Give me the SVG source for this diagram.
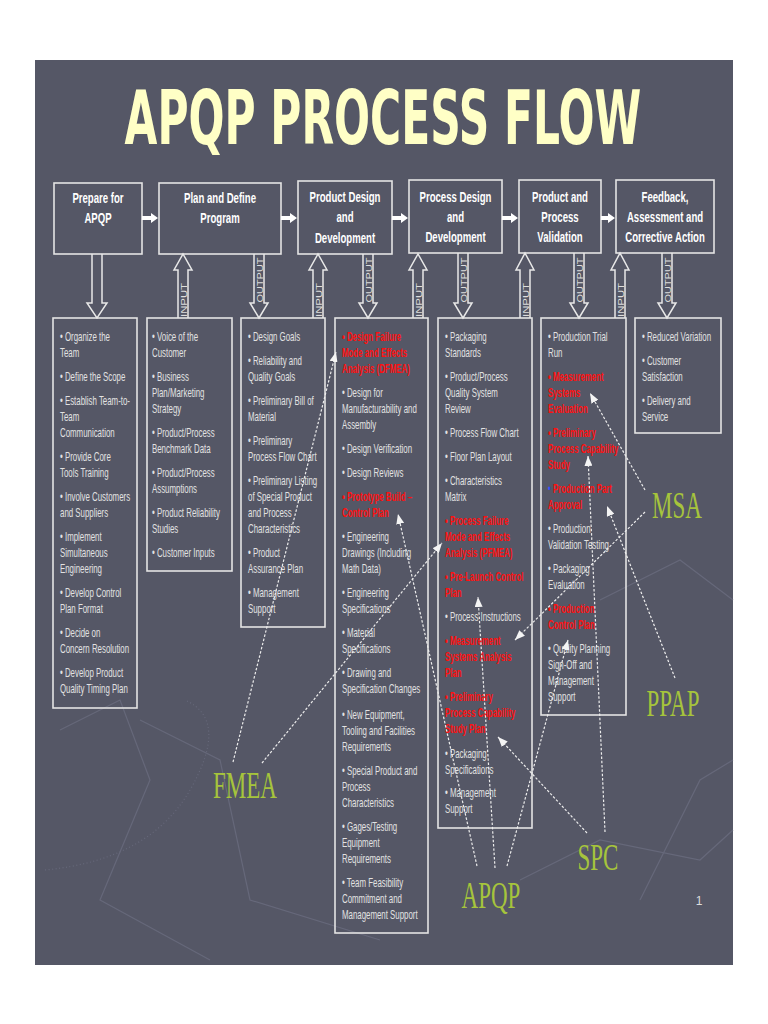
<svg xmlns="http://www.w3.org/2000/svg" width="768" height="1024" viewBox="0 0 768 1024">
<defs>
<style>
.bg{fill:#555766}
.box{fill:none;stroke:#e4e4e4;stroke-width:1.6}
.hd{font-family:"Liberation Sans",Arial,sans-serif;font-weight:bold;font-size:15px;fill:#ffffff;text-anchor:middle}
.t{font-family:"Liberation Sans",Arial,sans-serif;font-size:12.5px;fill:#e2e2e2}
.r{fill:#ff1010;font-weight:bold}
.b{fill:#3050ff}
.io{fill:none;stroke:#e8e8e8;stroke-width:1.5}
.iot{font-family:"Liberation Sans",Arial,sans-serif;font-size:9px;fill:#dddddd;text-anchor:middle}
.ha{fill:#ffffff}
.dl{fill:none;stroke:#ececec;stroke-width:1.2;stroke-dasharray:2.5 1.8}
.lb{font-family:"Liberation Serif","Times New Roman",serif;font-size:39px;fill:#a6c43c;text-anchor:middle}
.tex{fill:none;stroke:#66687a;stroke-width:1.2}
</style>
<marker id="ah" viewBox="0 0 10 8" refX="10" refY="4" markerWidth="10" markerHeight="8" markerUnits="userSpaceOnUse" orient="auto">
<path d="M0,0 L10,4 L0,8 Z" fill="#f4f4f4"/>
</marker>
</defs>
<rect x="0" y="0" width="768" height="1024" fill="#ffffff"/>
<rect class="bg" x="35" y="60" width="698" height="905"/>
<g id="background-texture">
<polyline class="tex" points="60,730 120,700 150,780 100,900 210,960"/>
<polyline class="tex" points="140,720 220,760 250,900 380,940"/>
<polyline class="tex" points="520,880 600,840 700,860 733,830"/>
<polyline class="tex" points="600,600 680,560 733,600"/>
<polyline class="tex" points="640,900 700,780 733,760"/>
<path class="tex" d="M45,870 Q150,860 190,790 Q230,720 185,700" stroke-dasharray="1 2.5" stroke-width="4"/>
</g>
<text transform="translate(383,144) scale(0.573,1)" x="0" y="0" font-family="'DejaVu Sans',Verdana,sans-serif" font-weight="bold" font-size="74" fill="#ffffc6" text-anchor="middle">APQP PROCESS FLOW</text>

<g id="step-prepare">
<rect class="box" x="54" y="183" width="88" height="71"/>
<text class="hd" transform="translate(98,0) scale(0.64,1)"><tspan x="0" y="203">Prepare for</tspan><tspan x="0" y="223">APQP</tspan></text>
</g>
<g id="step-plan">
<rect class="box" x="159" y="183" width="122" height="71"/>
<text class="hd" transform="translate(220,0) scale(0.64,1)"><tspan x="0" y="203">Plan and Define</tspan><tspan x="0" y="223">Program</tspan></text>
</g>
<g id="step-product-design">
<rect class="box" x="298" y="181" width="94" height="73"/>
<text class="hd" transform="translate(345,0) scale(0.64,1)"><tspan x="0" y="202">Product Design</tspan><tspan x="0" y="222">and</tspan><tspan x="0" y="243">Development</tspan></text>
</g>
<g id="step-process-design">
<rect class="box" x="409" y="180" width="93" height="73"/>
<text class="hd" transform="translate(455.5,0) scale(0.64,1)"><tspan x="0" y="202">Process Design</tspan><tspan x="0" y="222">and</tspan><tspan x="0" y="242">Development</tspan></text>
</g>
<g id="step-validation">
<rect class="box" x="519" y="180" width="82" height="73"/>
<text class="hd" transform="translate(560,0) scale(0.64,1)"><tspan x="0" y="202">Product and</tspan><tspan x="0" y="222">Process</tspan><tspan x="0" y="242">Validation</tspan></text>
</g>
<g id="step-feedback">
<rect class="box" x="616" y="180" width="98" height="73"/>
<text class="hd" transform="translate(665,0) scale(0.64,1)"><tspan x="0" y="202">Feedback,</tspan><tspan x="0" y="222">Assessment and</tspan><tspan x="0" y="242">Corrective Action</tspan></text>
</g>

<g id="list-prepare">
<rect class="box" x="53" y="318" width="84" height="390"/>
<text class="t" transform="translate(60,0) scale(0.63,1)">
<tspan x="0" y="341">• Organize the</tspan><tspan x="0" y="357">Team</tspan>
<tspan x="0" y="381">• Define the Scope</tspan>
<tspan x="0" y="405">• Establish Team-to-</tspan><tspan x="0" y="421">Team</tspan><tspan x="0" y="437">Communication</tspan>
<tspan x="0" y="461">• Provide Core</tspan><tspan x="0" y="477">Tools Training</tspan>
<tspan x="0" y="501">• Involve Customers</tspan><tspan x="0" y="517">and Suppliers</tspan>
<tspan x="0" y="541">• Implement</tspan><tspan x="0" y="557">Simultaneous</tspan><tspan x="0" y="573">Engineering</tspan>
<tspan x="0" y="597">• Develop Control</tspan><tspan x="0" y="613">Plan Format</tspan>
<tspan x="0" y="637">• Decide on</tspan><tspan x="0" y="653">Concern Resolution</tspan>
<tspan x="0" y="677">• Develop Product</tspan><tspan x="0" y="693">Quality Timing Plan</tspan>
</text>
</g>
<g id="list-plan">
<rect class="box" x="147" y="318" width="85" height="253"/>
<text class="t" transform="translate(152,0) scale(0.63,1)">
<tspan x="0" y="341">• Voice of the</tspan><tspan x="0" y="357">Customer</tspan>
<tspan x="0" y="381">• Business</tspan><tspan x="0" y="397">Plan/Marketing</tspan><tspan x="0" y="413">Strategy</tspan>
<tspan x="0" y="437">• Product/Process</tspan><tspan x="0" y="453">Benchmark Data</tspan>
<tspan x="0" y="477">• Product/Process</tspan><tspan x="0" y="493">Assumptions</tspan>
<tspan x="0" y="517">• Product Reliability</tspan><tspan x="0" y="533">Studies</tspan>
<tspan x="0" y="557">• Customer Inputs</tspan>
</text>
</g>
<g id="list-plan-output">
<rect class="box" x="241" y="318" width="84" height="309"/>
<text class="t" transform="translate(248,0) scale(0.63,1)">
<tspan x="0" y="341">• Design Goals</tspan>
<tspan x="0" y="365">• Reliability and</tspan><tspan x="0" y="381">Quality Goals</tspan>
<tspan x="0" y="405">• Preliminary Bill of</tspan><tspan x="0" y="421">Material</tspan>
<tspan x="0" y="445">• Preliminary</tspan><tspan x="0" y="461">Process Flow Chart</tspan>
<tspan x="0" y="485">• Preliminary Listing</tspan><tspan x="0" y="501">of Special Product</tspan><tspan x="0" y="517">and Process</tspan><tspan x="0" y="533">Characteristics</tspan>
<tspan x="0" y="557">• Product</tspan><tspan x="0" y="573">Assurance Plan</tspan>
<tspan x="0" y="597">• Management</tspan><tspan x="0" y="613">Support</tspan>
</text>
</g>
<g id="list-product-design">
<rect class="box" x="335" y="318" width="93" height="615"/>
<text class="t" transform="translate(342,0) scale(0.63,1)">
<tspan class="r" x="0" y="341">• Design Failure</tspan><tspan class="r" x="0" y="357">Mode and Effects</tspan><tspan class="r" x="0" y="373">Analysis (DFMEA)</tspan>
<tspan x="0" y="397">• Design for</tspan><tspan x="0" y="413">Manufacturability and</tspan><tspan x="0" y="429">Assembly</tspan>
<tspan x="0" y="453">• Design Verification</tspan>
<tspan x="0" y="477">• Design Reviews</tspan>
<tspan class="r" x="0" y="501">• Prototype Build –</tspan><tspan class="r" x="0" y="517">Control Plan</tspan>
<tspan x="0" y="541">• Engineering</tspan><tspan x="0" y="557">Drawings (Including</tspan><tspan x="0" y="573">Math Data)</tspan>
<tspan x="0" y="597">• Engineering</tspan><tspan x="0" y="613">Specifications</tspan>
<tspan x="0" y="637">• Material</tspan><tspan x="0" y="653">Specifications</tspan>
<tspan x="0" y="677">• Drawing and</tspan><tspan x="0" y="693">Specification Changes</tspan>
<tspan x="0" y="719">• New Equipment,</tspan><tspan x="0" y="735">Tooling and Facilities</tspan><tspan x="0" y="751">Requirements</tspan>
<tspan x="0" y="775">• Special Product and</tspan><tspan x="0" y="791">Process</tspan><tspan x="0" y="807">Characteristics</tspan>
<tspan x="0" y="831">• Gages/Testing</tspan><tspan x="0" y="847">Equipment</tspan><tspan x="0" y="863">Requirements</tspan>
<tspan x="0" y="887">• Team Feasibility</tspan><tspan x="0" y="903">Commitment and</tspan><tspan x="0" y="919">Management Support</tspan>
</text>
</g>
<g id="list-process-design">
<rect class="box" x="438" y="318" width="94" height="510"/>
<text class="t" transform="translate(445,0) scale(0.63,1)">
<tspan x="0" y="341">• Packaging</tspan><tspan x="0" y="357">Standards</tspan>
<tspan x="0" y="381">• Product/Process</tspan><tspan x="0" y="397">Quality System</tspan><tspan x="0" y="413">Review</tspan>
<tspan x="0" y="437">• Process Flow Chart</tspan>
<tspan x="0" y="461">• Floor Plan Layout</tspan>
<tspan x="0" y="485">• Characteristics</tspan><tspan x="0" y="501">Matrix</tspan>
<tspan class="r" x="0" y="525">• Process Failure</tspan><tspan class="r" x="0" y="541">Mode and Effects</tspan><tspan class="r" x="0" y="557">Analysis (PFMEA)</tspan>
<tspan class="r" x="0" y="581">• Pre-Launch Control</tspan><tspan class="r" x="0" y="597">Plan</tspan>
<tspan x="0" y="621">• Process Instructions</tspan>
<tspan class="r" x="0" y="645">• Measurement</tspan><tspan class="r" x="0" y="661">Systems Analysis</tspan><tspan class="r" x="0" y="677">Plan</tspan>
<tspan class="r" x="0" y="701">• Preliminary</tspan><tspan class="r" x="0" y="717">Process Capability</tspan><tspan class="r" x="0" y="733">Study Plan</tspan>
<tspan x="0" y="758">• Packaging</tspan><tspan x="0" y="774">Specifications</tspan>
<tspan x="0" y="797">• Management</tspan><tspan x="0" y="813">Support</tspan>
</text>
</g>
<g id="list-validation">
<rect class="box" x="541" y="318" width="85" height="397"/>
<text class="t" transform="translate(548,0) scale(0.63,1)">
<tspan x="0" y="341">• Production Trial</tspan><tspan x="0" y="357">Run</tspan>
<tspan class="r" x="0" y="381">• Measurement</tspan><tspan class="r" x="0" y="397">Systems</tspan><tspan class="r" x="0" y="413">Evaluation</tspan>
<tspan class="r" x="0" y="437">• Preliminary</tspan><tspan class="r" x="0" y="453">Process Capability</tspan><tspan class="r" x="0" y="469">Study</tspan>
<tspan class="b" x="0" y="493">•</tspan><tspan class="r"> Production Part</tspan><tspan class="r" x="0" y="509">Approval</tspan>
<tspan x="0" y="533">• Production</tspan><tspan x="0" y="549">Validation Testing</tspan>
<tspan x="0" y="573">• Packaging</tspan><tspan x="0" y="589">Evaluation</tspan>
<tspan class="r" x="0" y="613">• Production</tspan><tspan class="r" x="0" y="629">Control Plan</tspan>
<tspan x="0" y="653">• Quality Planning</tspan><tspan x="0" y="669">Sign-Off and</tspan><tspan x="0" y="685">Management</tspan><tspan x="0" y="701">Support</tspan>
</text>
</g>
<g id="list-feedback">
<rect class="box" x="635" y="318" width="86" height="115"/>
<text class="t" transform="translate(642,0) scale(0.63,1)">
<tspan x="0" y="341">• Reduced Variation</tspan>
<tspan x="0" y="365">• Customer</tspan><tspan x="0" y="381">Satisfaction</tspan>
<tspan x="0" y="405">• Delivery and</tspan><tspan x="0" y="421">Service</tspan>
</text>
</g>

<g id="label-fmea"><text class="lb" transform="translate(245,798) scale(0.59,1)">FMEA</text></g>
<g id="label-msa"><text class="lb" transform="translate(677,518) scale(0.59,1)">MSA</text></g>
<g id="label-ppap"><text class="lb" transform="translate(673,716) scale(0.59,1)">PPAP</text></g>
<g id="label-spc"><text class="lb" transform="translate(598,870) scale(0.59,1)">SPC</text></g>
<g id="label-apqp"><text class="lb" transform="translate(491,908) scale(0.59,1)">APQP</text></g>
<text x="699" y="905" font-family="'Liberation Sans',Arial,sans-serif" font-size="12" fill="#dddddd" text-anchor="middle">1</text>

<g id="connectors">
<path class="ha" d="M142,216 L151,216 L151,213 L158,218 L151,223 L151,220 L142,220 Z"/>
<path class="ha" d="M281,216 L290,216 L290,213 L297,218 L290,223 L290,220 L281,220 Z"/>
<path class="ha" d="M392,216 L401,216 L401,213 L408,218 L401,223 L401,220 L392,220 Z"/>
<path class="ha" d="M502,216 L511,216 L511,213 L518,218 L511,223 L511,220 L502,220 Z"/>
<path class="ha" d="M601,216 L608,216 L608,213 L615,218 L608,223 L608,220 L601,220 Z"/>

<path class="io" d="M92,254 L92,303 L87,303 L97,318 L107,303 L102,303 L102,254"/>

<path class="io" d="M178,318 L178,270 L174,270 L183,254 L192,270 L188,270 L188,318"/>
<text class="iot" transform="translate(186.5,300) rotate(-90)" textLength="34" lengthAdjust="spacingAndGlyphs">INPUT</text>
<path class="io" d="M254,254 L254,303 L250,303 L259,318 L268,303 L264,303 L264,254"/>
<text class="iot" transform="translate(262.5,280) rotate(-90)" textLength="45" lengthAdjust="spacingAndGlyphs">OUTPUT</text>

<path class="io" d="M313,318 L313,270 L309,270 L318,254 L327,270 L323,270 L323,318"/>
<text class="iot" transform="translate(321.5,300) rotate(-90)" textLength="34" lengthAdjust="spacingAndGlyphs">INPUT</text>
<path class="io" d="M363,254 L363,303 L359,303 L368,318 L377,303 L373,303 L373,254"/>
<text class="iot" transform="translate(371.5,280) rotate(-90)" textLength="45" lengthAdjust="spacingAndGlyphs">OUTPUT</text>

<path class="io" d="M413,318 L413,270 L409,270 L418,254 L427,270 L423,270 L423,318"/>
<text class="iot" transform="translate(421.5,300) rotate(-90)" textLength="34" lengthAdjust="spacingAndGlyphs">INPUT</text>
<path class="io" d="M458,253 L458,303 L454,303 L463,318 L472,303 L468,303 L468,253"/>
<text class="iot" transform="translate(466.5,280) rotate(-90)" textLength="45" lengthAdjust="spacingAndGlyphs">OUTPUT</text>

<path class="io" d="M520,318 L520,270 L516,270 L525,253 L534,270 L530,270 L530,318"/>
<text class="iot" transform="translate(528.5,300) rotate(-90)" textLength="34" lengthAdjust="spacingAndGlyphs">INPUT</text>
<path class="io" d="M574,253 L574,303 L570,303 L579,318 L588,303 L584,303 L584,253"/>
<text class="iot" transform="translate(582.5,280) rotate(-90)" textLength="45" lengthAdjust="spacingAndGlyphs">OUTPUT</text>

<path class="io" d="M615,318 L615,270 L611,270 L620,253 L629,270 L625,270 L625,318"/>
<text class="iot" transform="translate(623.5,300) rotate(-90)" textLength="34" lengthAdjust="spacingAndGlyphs">INPUT</text>
<path class="io" d="M662,253 L662,303 L658,303 L667,318 L676,303 L672,303 L672,253"/>
<text class="iot" transform="translate(670.5,280) rotate(-90)" textLength="45" lengthAdjust="spacingAndGlyphs">OUTPUT</text>

<line class="dl" x1="233" y1="762" x2="336" y2="352" marker-end="url(#ah)"/>
<line class="dl" x1="262" y1="763" x2="442" y2="543" marker-end="url(#ah)"/>
<line class="dl" x1="477" y1="866" x2="398" y2="514" marker-end="url(#ah)"/>
<line class="dl" x1="495" y1="868" x2="478" y2="597" marker-end="url(#ah)"/>
<line class="dl" x1="507" y1="866" x2="568" y2="640" marker-end="url(#ah)"/>
<line class="dl" x1="587" y1="833" x2="498" y2="737" marker-end="url(#ah)"/>
<line class="dl" x1="605" y1="832" x2="588" y2="456" marker-end="url(#ah)"/>
<line class="dl" x1="645" y1="490" x2="590" y2="393" marker-end="url(#ah)"/>
<line class="dl" x1="645" y1="512" x2="515" y2="640" marker-end="url(#ah)"/>
<line class="dl" x1="675" y1="678" x2="607" y2="506" marker-end="url(#ah)"/>
</g>
</svg>
